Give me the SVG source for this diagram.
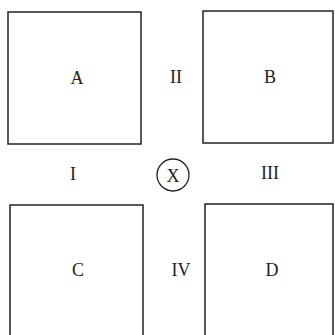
<svg xmlns="http://www.w3.org/2000/svg" width="335" height="335" viewBox="0 0 335 335">
<style>
.box{fill:#fff;stroke:#222;stroke-width:1.5}
.t{font-family:"Liberation Serif",serif;font-size:18px;fill:#222;text-anchor:middle}
</style>
<rect width="335" height="335" fill="#fff"/>
<g id="A"><rect class="box" x="8" y="12" width="133" height="132"/><text class="t" x="77" y="84">A</text></g>
<g id="B"><rect class="box" x="203" y="11" width="130" height="132"/><text class="t" x="270" y="83">B</text></g>
<g id="C"><rect class="box" x="10" y="205" width="133" height="131"/><text class="t" x="78" y="276">C</text></g>
<g id="D"><rect class="box" x="205" y="204" width="128" height="132"/><text class="t" x="272" y="276">D</text></g>
<g id="X"><circle cx="173" cy="175" r="16" fill="#fff" stroke="#222" stroke-width="1.3"/><text class="t" x="173" y="182">X</text></g>
<g id="labels">
<text class="t" x="176" y="83">II</text>
<text class="t" x="73" y="180">I</text>
<text class="t" x="270" y="179">III</text>
<text class="t" x="181" y="276">IV</text>
</g>
<g id="connectors"></g>
</svg>
